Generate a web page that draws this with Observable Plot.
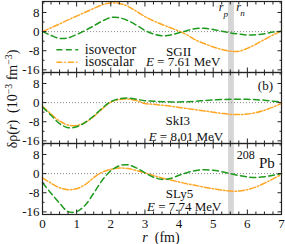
<!DOCTYPE html>
<html><head><meta charset="utf-8">
<script src="https://cdn.jsdelivr.net/npm/d3@7"></script>
<script src="https://cdn.jsdelivr.net/npm/@observablehq/plot@0.6"></script>
<style>
html,body{margin:0;padding:0;background:#fff;}
#wrap{position:relative;width:285px;height:244px;font-family:"Liberation Serif","Times New Roman",serif;color:#111;}
.lab{position:absolute;white-space:nowrap;font-size:14px;line-height:1;}
.lab sup{font-size:70%;vertical-align:0.5em;line-height:0;}
</style></head><body><div id="wrap"></div>
<script>
// ---- data ----
const models = ["SGII", "SkI3", "SLy5"];
const energies = ["7.61", "8.01", "7.74"];
const rGrid = [0,0.25,0.5,0.75,1,1.25,1.5,1.75,2,2.25,2.5,2.75,3,3.25,3.5,3.75,4,4.25,4.5,4.75,5,5.25,5.5,5.75,6,6.25,6.5,6.75,7];
const sgiiIsovector = [0,-1.6,-2.8,-2.6,-1.2,0.5,2.4,4.4,5.9,5.8,4.6,2.7,0.5,-1.0,-1.7,-1.4,-0.5,0.5,1.3,1.4,0.9,0.2,-0.5,-1.0,-1.4,-1.3,-0.9,-0.2,0.2];
const sgiiIsoscalar = [0,1.6,3.2,4.9,6.5,8.1,9.7,11.2,12.0,11.8,10.6,8.5,6.3,4.5,3.0,1.6,0.2,-1.5,-3.6,-5.1,-6.4,-7.5,-8.2,-8.2,-7.0,-5.3,-3.3,-1.4,0.3];
const ski3Isovector = [-1.9,-5.3,-8.8,-10.5,-10.1,-8.3,-5.6,-2.3,0.4,1.6,1.9,1.4,0.8,0.6,0.4,0.3,0.3,0.4,0.6,0.9,1.1,1.3,1.4,1.4,1.4,1.2,1.0,0.6,0.2];
const ski3Isoscalar = [-1.5,-4.8,-7.7,-9.4,-9.6,-8.3,-5.8,-2.6,0.2,1.3,1.5,0.9,-0.4,-0.7,-1.1,-1.5,-2.0,-2.5,-3.0,-3.5,-4.0,-4.5,-4.9,-5.0,-4.8,-4.2,-3.2,-1.9,-0.3];
const sly5Isovector = [-3.8,-8.2,-12.3,-15.9,-15.9,-13.2,-8.2,-2.8,1.2,3.3,3.7,2.4,0.3,-1.5,-2.4,-2.0,-0.7,0.5,1.3,1.6,1.4,0.8,0.0,-0.8,-1.4,-1.6,-1.3,-0.7,0.0];
const sly5Isoscalar = [-1.8,-4.0,-5.9,-6.7,-6.3,-4.6,-1.7,0.6,1.8,2.3,2.1,1.3,0.3,-0.8,-1.8,-2.7,-3.5,-4.3,-5.0,-5.7,-6.3,-6.9,-7.3,-7.3,-6.7,-5.6,-4.0,-2.2,-0.3];
const radiusBand = [5.45, 5.62]; // r_p, r_n
const xMajor = [0,1,2,3,4,5,6,7];
const yMajor = [-16,-8,0,8];
const yMinor = [-12,-4,4,12];

// ---- tables ----
const series = [
  ["SGII","iv",sgiiIsovector],["SGII","is",sgiiIsoscalar],
  ["SkI3","iv",ski3Isovector],["SkI3","is",ski3Isoscalar],
  ["SLy5","iv",sly5Isovector],["SLy5","is",sly5Isoscalar]
];
const rows = series.flatMap(([model, kind, vals]) => vals.map((v, i) => ({model, kind, r: rGrid[i], v})));
const xMinor = d3.range(0, 7.001, 0.25).filter(d => !xMajor.includes(d));

const green = "#1e9a1e", orange = "#ffa624";
const ivStyle = {stroke: green, strokeWidth: 1.5, strokeDasharray: "6,3.5"};
const isStyle = {stroke: orange, strokeWidth: 1.5, strokeDasharray: "6,2,1.5,2"};

// annotation layout (data coordinates inside each panel)
const nameY = [-8.6, -7.7, -8.5], nameX = [3.99, 3.96, 4.01];
const eY = [-12.6, -14.1, -13.7], eX = [4.12, 4.2, 4.15];
const labels = models.flatMap((m, i) => [
  {model: m, x: nameX[i], y: nameY[i], text: m},
  {model: m, x: eX[i], y: eY[i], text: "E = " + energies[i] + " MeV"}
]);

const tickC = {facetAnchor: null, label: null, fill: "none", stroke: "#222", strokeWidth: 1};

const chart = Plot.plot({
  width: 285, height: 244,
  marginLeft: 42, marginRight: 4, marginTop: 1, marginBottom: 30,
  style: {fontFamily: "'Liberation Serif', 'Times New Roman', serif", fontSize: "13px", color: "#111", background: "#fff"},
  x: {domain: [0, 7]},
  y: {domain: [-17.1, 12.6]},
  fy: {domain: models, padding: 0, axis: null},
  marks: [
    Plot.rect([radiusBand], {x1: d => d[0], x2: d => d[1], fill: "#d6d6d6"}),
    Plot.ruleY([0], {stroke: "#8a8a8a", strokeWidth: 1, strokeDasharray: "1,2"}),
    Plot.line(rows.filter(d => d.kind === "is"), {x: "r", y: "v", fy: "model", curve: "catmull-rom", ...isStyle}),
    Plot.line(rows.filter(d => d.kind === "iv"), {x: "r", y: "v", fy: "model", curve: "catmull-rom", ...ivStyle}),
    // legend (panel SGII)
    Plot.ruleY([{model: "SGII", y: -7.6}], {y: "y", fy: "model", x1: 0.42, x2: 1.06, ...ivStyle}),
    Plot.ruleY([{model: "SGII", y: -12.8}], {y: "y", fy: "model", x1: 0.42, x2: 1.06, ...isStyle}),
    Plot.text([{model: "SGII", y: -7.3, t: "isovector"}, {model: "SGII", y: -12.4, t: "isoscalar"}],
      {x: () => 1.24, y: "y", fy: "model", text: "t", textAnchor: "start", fontSize: 14, fill: "#111"}),
    // panel labels
    Plot.text(labels, {x: "x", y: "y", fy: "model", text: "text", textAnchor: "middle", fontSize: 13, fill: "#111"}),
    Plot.text([{model: "SkI3"}], {x: () => 6.53, y: () => 6.9, fy: "model", text: () => "(b)", fontSize: 13, fill: "#111"}),
    Plot.text([{model: "SLy5"}], {x: () => 5.95, y: () => 7.6, fy: "model", text: () => "208", fontSize: 12, fill: "#111"}),
    Plot.text([{model: "SLy5"}], {x: () => 6.57, y: () => 4.5, fy: "model", text: () => "Pb", fontSize: 15, fill: "#111"}),
    // r_p r_n
    Plot.text([{model: "SGII"}], {x: () => 5.23, y: () => 10.3, fy: "model", text: () => "r", fontStyle: "italic", fontSize: 12, fill: "#111"}),
    Plot.text([{model: "SGII"}], {x: () => 5.37, y: () => 7.5, fy: "model", text: () => "p", fontStyle: "italic", fontSize: 9, fill: "#111"}),
    Plot.text([{model: "SGII"}], {x: () => 5.74, y: () => 10.3, fy: "model", text: () => "r", fontStyle: "italic", fontSize: 12, fill: "#111"}),
    Plot.text([{model: "SGII"}], {x: () => 5.86, y: () => 7.7, fy: "model", text: () => "n", fontStyle: "italic", fontSize: 9, fill: "#111"}),
    Plot.frame({stroke: "#222", strokeWidth: 1.2}),
    // inward ticks
    Plot.axisX({ticks: xMajor, anchor: "bottom", tickSize: -4.5, ...tickC}),
    Plot.axisX({ticks: xMajor, anchor: "top", tickSize: -4.5, ...tickC}),
    Plot.axisX({ticks: xMinor, anchor: "bottom", tickSize: -2.5, ...tickC}),
    Plot.axisX({ticks: xMinor, anchor: "top", tickSize: -2.5, ...tickC}),
    Plot.axisY({ticks: yMajor, anchor: "left", tickSize: -4.5, ...tickC}),
    Plot.axisY({ticks: yMajor, anchor: "right", tickSize: -4.5, ...tickC}),
    Plot.axisY({ticks: yMinor, anchor: "left", tickSize: -2.5, ...tickC}),
    Plot.axisY({ticks: yMinor, anchor: "right", tickSize: -2.5, ...tickC}),
    // tick labels
    Plot.axisX({ticks: xMajor, anchor: "bottom", tickSize: 0, tickPadding: 4, tickFormat: d => String(d), label: null, fontSize: 13, fill: "#111"}),
    Plot.axisY({ticks: yMajor, anchor: "left", tickSize: 0, tickPadding: 3, tickFormat: d => String(d), label: null, facetAnchor: null, fontSize: 13, fill: "#111"})
  ]
});

// italic E in energy labels
d3.select(chart).selectAll("text").each(function() {
  const t = this.textContent;
  if (t.startsWith("E = ")) {
    const rest = t.slice(1);
    this.textContent = "";
    d3.select(this).append("tspan").attr("font-style", "italic").text("E");
    d3.select(this).append("tspan").text(rest);
  }
});

const wrap = document.getElementById("wrap");
wrap.appendChild(chart);
const yl = document.createElement("div");
yl.className = "lab";
yl.style.left = "13px"; yl.style.top = "99px";
yl.style.transform = "translate(-50%,-50%) rotate(-90deg)";
yl.innerHTML = "δρ(<i>r</i>)&nbsp; (10<sup>−3</sup> fm<sup>−3</sup>)";
wrap.appendChild(yl);
const xl = document.createElement("div");
xl.className = "lab";
xl.style.left = "161px"; xl.style.top = "238px";
xl.style.transform = "translate(-50%,-50%)";
xl.innerHTML = "<i>r</i>&nbsp; (fm)";
wrap.appendChild(xl);
</script>
</body></html>
